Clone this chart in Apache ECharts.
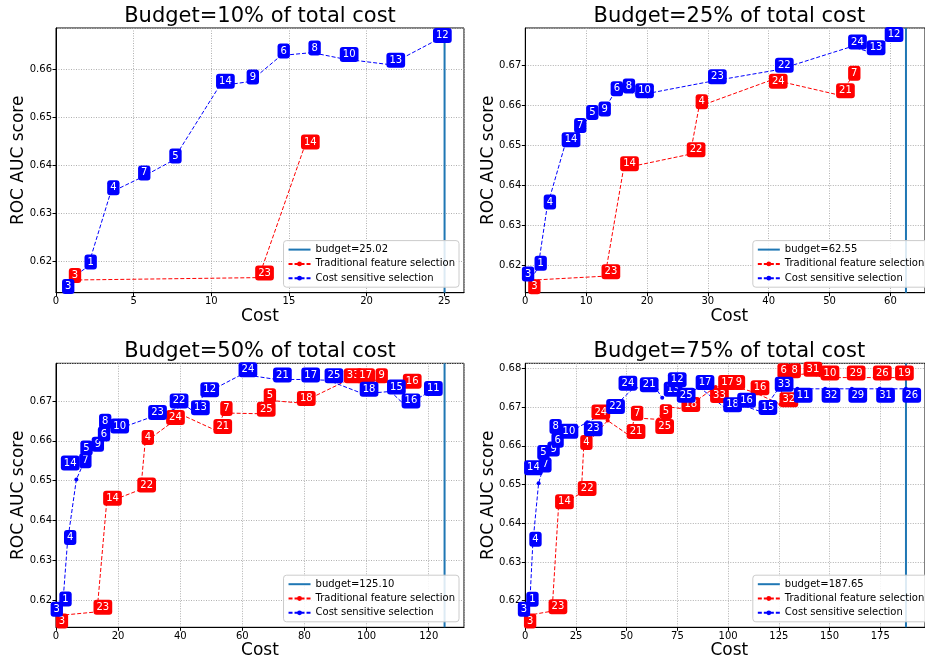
<!DOCTYPE html>
<html>
<head>
<meta charset="utf-8">
<script src="https://cdn.jsdelivr.net/npm/echarts@6/dist/echarts.min.js"></script>
<style>
  html, body { margin: 0; padding: 0; background: #fff; }
  #chart { width: 925px; height: 662px; }
</style>
</head>
<body>
<div id="chart"></div>
<script>
// ROC AUC of greedy feature selection against cumulative feature cost,
// for four budget levels. Each point is labelled with the feature added.

const budgetPct = ['10%', '25%', '50%', '75%'];
const budgets = [25.02, 62.55, 125.10, 187.65];
const budgetText = ['25.02', '62.55', '125.10', '187.65'];

// Budget = 10% of total cost
const cs10Feat = [3, 1, 4, 7, 5, 14, 9, 6, 8, 10, 13, 12];
const cs10Cost = [1.0, 2.06, 3.52, 5.51, 7.52, 10.53, 12.5, 14.49, 16.48, 18.5, 21.5, 24.5];
const cs10Auc  = [0.6166, 0.6190, 0.6344, 0.6375, 0.6410, 0.6565, 0.6574, 0.6628, 0.6634, 0.6621, 0.6609, 0.6660];
const tr10Feat = [3, 23, 14];
const tr10Cost = [1.05, 13.05, 16.0];
const tr10Auc  = [0.6162, 0.6167, 0.6439];

// Budget = 25% of total cost
const cs25Feat = [3, 1, 4, 14, 7, 5, 9, 6, 8, 10, 23, 22, 24, 13, 12];
const cs25Cost = [1.0, 2.09, 3.6, 6.55, 8.59, 10.57, 12.61, 14.6, 16.59, 18.63, 30.6, 41.6, 53.62, 56.68, 59.63];
const cs25Auc  = [0.6166, 0.6193, 0.6347, 0.6503, 0.6539, 0.6571, 0.6580, 0.6631, 0.6638, 0.6626, 0.6661, 0.6690, 0.6748, 0.6734, 0.6767];
const tr25Feat = [3, 23, 14, 22, 4, 24, 21, 7];
const tr25Cost = [1.05, 13.1, 16.16, 27.1, 28.56, 40.6, 51.64, 53.62];
const tr25Auc  = [0.6162, 0.6172, 0.6443, 0.6478, 0.6598, 0.6665, 0.6626, 0.6670];

// Budget = 50% of total cost
const cs50Feat = [3, 1, 4, 14, 7, 5, 9, 6, 8, 10, 23, 22, 13, 12, 24, 21, 17, 25, 18, 15, 16, 11];
const cs50Cost = [1.0, 2.2, 3.7, 6.55, 8.59, 10.57, 12.61, 14.6, 16.59, 18.63, 30.8, 41.6, 44.6, 47.6, 59.9, 71.0, 80.1, 87.6, 98.9, 107.7, 112.4, 119.6];
const cs50Auc  = [0.6166, 0.6192, 0.6346, 0.6503, 0.6539, 0.6571, 0.6580, 0.6631, 0.6638, 0.6626, 0.6660, 0.6689, 0.6672, 0.6717, 0.6767, 0.6754, 0.6754, 0.6752, 0.6718, 0.6724, 0.6689, 0.6720];
const tr50Feat = [3, 23, 14, 22, 4, 24, 21, 7, 25, 5, 18, 33, 17, 9, 16];
const tr50Cost = [1.05, 13.2, 16.3, 27.3, 28.7, 40.6, 51.8, 54.0, 65.8, 68.0, 78.7, 93.8, 97.8, 104.0, 112.8];
const tr50Auc  = [0.6162, 0.6171, 0.6445, 0.6478, 0.6597, 0.6665, 0.6625, 0.6670, 0.6668, 0.6702, 0.6695, 0.6752, 0.6752, 0.6752, 0.6738];

// Budget = 75% of total cost
const cs75Feat = [3, 1, 4, 14, 7, 5, 9, 6, 8, 10, 23, 22, 24, 21, 13, 12, 25, 17, 18, 16, 15, 33, 11, 32, 29, 31, 26];
const cs75Cost = [1.0, 2.2, 3.7, 6.55, 8.59, 10.57, 12.61, 14.6, 16.59, 18.63, 30.6, 41.6, 53.6, 64.6, 67.5, 72.0, 76.4, 85.7, 99.3, 106.2, 116.7, 124.7, 134.1, 147.8, 161.0, 174.7, 187.6];
const cs75Auc  = [0.6166, 0.6192, 0.6347, 0.6503, 0.6539, 0.6571, 0.6580, 0.6631, 0.6638, 0.6626, 0.6661, 0.6690, 0.6750, 0.6746, 0.6724, 0.6759, 0.6719, 0.6752, 0.6694, 0.6706, 0.6687, 0.6747, 0.6747, 0.6747, 0.6747, 0.6747, 0.6747];
const tr75Feat = [3, 23, 14, 22, 4, 24, 21, 7, 25, 5, 18, 33, 17, 9, 16, 32, 6, 8, 31, 10, 29, 26, 19];
const tr75Cost = [1.05, 13.2, 16.4, 27.6, 28.8, 40.6, 51.7, 53.8, 65.8, 68.0, 78.7, 93.8, 97.8, 104.0, 112.8, 125.8, 127.0, 131.5, 138.9, 147.3, 160.2, 173.1, 184.0];
const tr75Auc  = [0.6162, 0.6173, 0.6444, 0.6478, 0.6597, 0.6665, 0.6625, 0.6672, 0.6668, 0.6702, 0.6695, 0.6752, 0.6752, 0.6752, 0.6738, 0.6707, 0.6782, 0.6782, 0.6786, 0.6776, 0.6776, 0.6776, 0.6776];

// Pixel nudges for labels pushed aside to avoid overlapping neighbours.
const labelNudge = [
  { tr: {}, cs: { 3: [-6, 13] } },
  { tr: { 3: [0, 11], 24: [0, 6] }, cs: { 3: [-6, 0] } },
  { tr: { 3: [0, 10], 24: [-12.5, 7] },
    cs: { 3: [-5, 0], 14: [-12, -12], 5: [-5, 0], 6: [0, 10], 8: [-5, 0], 22: [-12, 0] } },
  { tr: { 3: [0, 10], 24: [-12.7, -4], 25: [0, 11.6], 5: [0, 10], 33: [-2, 13], 17: [-2, 0], 32: [2.5, 0], 6: [-2, 0] },
    cs: { 3: [-6, 0], 14: [-11, -11], 5: [-6, 0], 6: [0, 11], 8: [-6, 0], 23: [0, 11], 24: [-12, 0],
          21: [-13, 0], 13: [5, -4], 11: [0, 11], 32: [0, 11], 29: [0, 11], 31: [0, 11], 26: [0, 11] } }
];

const panelData = [
  { cs: [cs10Feat, cs10Cost, cs10Auc], tr: [tr10Feat, tr10Cost, tr10Auc] },
  { cs: [cs25Feat, cs25Cost, cs25Auc], tr: [tr25Feat, tr25Cost, tr25Auc] },
  { cs: [cs50Feat, cs50Cost, cs50Auc], tr: [tr50Feat, tr50Cost, tr50Auc] },
  { cs: [cs75Feat, cs75Cost, cs75Auc], tr: [tr75Feat, tr75Cost, tr75Auc] }
];

// Axes layout (pixels) and limits
const panelLayout = [
  { left: 56,    top: 28,    height: 264.7, yMin: 0.61357, yMax: 0.66851, xStep: 5 },
  { left: 525.3, top: 28,    height: 264.7, yMin: 0.61305, yMax: 0.67946, xStep: 10 },
  { left: 56,    top: 363.3, height: 264,   yMin: 0.61323, yMax: 0.67946, xStep: 20 },
  { left: 525.3, top: 363.3, height: 264,   yMin: 0.61313, yMax: 0.68129, xStep: 25 }
];
const AX_W = 408;
const FONT = '"DejaVu Sans", "Liberation Sans", sans-serif';
const RED = '#ff0000', BLUE = '#0000ff', BUDGET_BLUE = '#1f77b4';
const TR_NAME = 'Traditional feature selection';
const CS_NAME = 'Cost sensitive selection';

const grids = [], xAxes = [], yAxes = [], series = [], legends = [], graphics = [];

panelLayout.forEach((p, i) => {
  const budget = budgets[i];
  const budgetName = 'budget=' + budgetText[i];
  grids.push({ left: p.left, top: p.top, width: AX_W, height: p.height,
               show: true, borderColor: '#000', borderWidth: 1, backgroundColor: 'transparent' });

  xAxes.push({
    type: 'value', gridIndex: i, min: 0, max: budget * 1.05, interval: p.xStep,
    axisLine: { show: true, onZero: false, lineStyle: { color: '#000', width: 1 } },
    axisTick: { show: true, length: 3.5, lineStyle: { color: '#000' } },
    axisLabel: { color: '#000', fontSize: 10, fontFamily: FONT, margin: 4, showMaxLabel: false },
    splitLine: { show: true, lineStyle: { color: '#b0b0b0', width: 1, type: [1, 1.5] } }
  });
  yAxes.push({
    type: 'value', gridIndex: i, min: p.yMin, max: p.yMax, minInterval: 0.01, maxInterval: 0.01,
    axisLine: { show: true, onZero: false, lineStyle: { color: '#000', width: 1 } },
    axisTick: { show: true, length: 3.5, lineStyle: { color: '#000' } },
    axisLabel: { color: '#000', fontSize: 10, fontFamily: FONT, margin: 4,
                 showMinLabel: false, showMaxLabel: false, formatter: v => v.toFixed(2) },
    splitLine: { show: true, lineStyle: { color: '#b0b0b0', width: 1, type: [1, 1.5] } }
  });

  // budget marker
  series.push({
    type: 'line', name: budgetName, xAxisIndex: i, yAxisIndex: i,
    data: [[budget, p.yMin], [budget, p.yMax]], symbol: 'none',
    lineStyle: { color: BUDGET_BLUE, width: 2 }, itemStyle: { color: BUDGET_BLUE },
    z: 2, silent: true, animation: false
  });

  const addCurve = (key, name, color, zLabel) => {
    const [feat, cost, auc] = panelData[i][key];
    const pts = cost.map((c, k) => [c, auc[k]]);
    series.push({
      type: 'line', name: name, xAxisIndex: i, yAxisIndex: i, data: pts,
      symbol: 'circle', symbolSize: 4, showAllSymbol: true, clip: false,
      lineStyle: { color: color, width: 1, type: [4, 2] }, itemStyle: { color: color },
      z: 2, silent: true, animation: false
    });
    const nudge = labelNudge[i][key];
    series.push({
      type: 'scatter', name: name, xAxisIndex: i, yAxisIndex: i, clip: false,
      data: pts.map((pt, k) => {
        const d = nudge[feat[k]] || [0, 0];
        return { value: pt, label: { position: [-3 + d[0], 3.5 + d[1]] } };
      }),
      symbol: 'circle', symbolSize: 1, itemStyle: { color: 'rgba(0,0,0,0)', opacity: 1 },
      label: {
        show: true, formatter: prm => String(feat[prm.dataIndex]), opacity: 1,
        color: '#fff', fontSize: 10, fontFamily: FONT, lineHeight: 11,
        backgroundColor: color, borderRadius: 3, padding: [2, 3, 2, 3],
        align: 'left', verticalAlign: 'bottom'
      },
      emphasis: { disabled: true }, z: zLabel, silent: true, animation: false
    });
  };
  addCurve('tr', TR_NAME, RED, 3);
  addCurve('cs', CS_NAME, BLUE, 4);

  const rightEdge = p.left + AX_W;
  legends.push({
    orient: 'vertical', right: 925 - (rightEdge - 5), bottom: 662 - (p.top + p.height - 5.5),
    data: [{ name: budgetName, icon: 'path://M0,0 H22 V2 H0 Z' }, TR_NAME, CS_NAME],
    itemWidth: 22, itemHeight: 6, itemGap: 2.3, padding: [3, 4, 3, 4], symbolKeepAspect: true,
    backgroundColor: 'rgba(255,255,255,0.85)', borderColor: '#cccccc', borderWidth: 1, borderRadius: 3,
    textStyle: { fontSize: 10, fontFamily: FONT, color: '#000', lineHeight: 12 },
    selectedMode: false, z: 10
  });

  const cx = p.left + AX_W / 2;
  graphics.push({
    type: 'text', x: cx, y: p.top - 11.7, silent: true,
    style: { text: 'Budget=' + budgetPct[i] + ' of total cost', font: '21px ' + FONT, fill: '#000',
             align: 'center', verticalAlign: 'middle', textAlign: 'center', textVerticalAlign: 'middle' }
  });
  graphics.push({
    type: 'text', x: cx, y: p.top + p.height + 23.7, silent: true,
    style: { text: 'Cost', font: '17px ' + FONT, fill: '#000',
             align: 'center', verticalAlign: 'middle', textAlign: 'center', textVerticalAlign: 'middle' }
  });
  graphics.push({
    type: 'text', x: p.left - 37.2, y: p.top + p.height / 2, rotation: Math.PI / 2, silent: true,
    style: { text: 'ROC AUC score', font: '17px ' + FONT, fill: '#000',
             align: 'center', verticalAlign: 'middle', textAlign: 'center', textVerticalAlign: 'middle' }
  });
});

const chart = echarts.init(document.getElementById('chart'), null, { renderer: 'canvas' });
chart.setOption({
  backgroundColor: '#fff',
  animation: false,
  grid: grids,
  xAxis: xAxes,
  yAxis: yAxes,
  legend: legends,
  series: series,
  graphic: graphics
});
</script>
</body>
</html>
